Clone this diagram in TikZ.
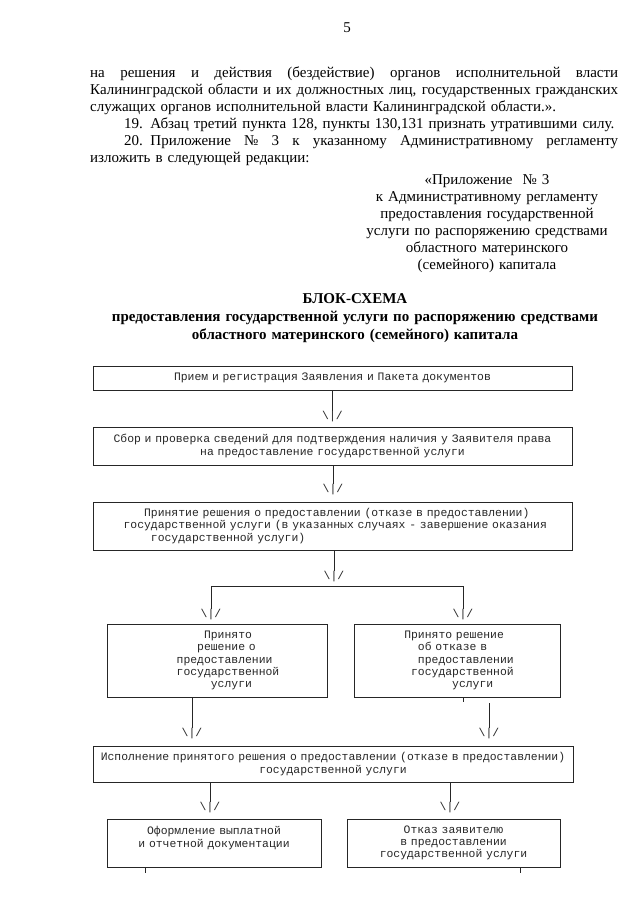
\documentclass[tikz,border=0pt]{standalone}
\usepackage{fontspec}
\setmainfont{Liberation Serif}
\newfontfamily\boxfont{Liberation Mono}
\usepackage{tikz}

\newcommand{\jline}[2][\linewidth]{\leavevmode\hbox to #1{\spaceskip=0.25em plus 1fil minus 0.08em\relax #2}}

\begin{document}
\begin{tikzpicture}[x=1pt, y=-1pt]
        \tikzset{
            page/.style={font=\fontsize{15}{17}\selectfont, inner sep=0pt},
            box/.style={draw=black!85, line width=0.8pt, inner xsep=0pt, inner ysep=2pt, text=black!85,
                        font=\boxfont\fontsize{11.4}{12.3}\selectfont, align=center},
            pad/.style={align=left, execute at begin node={\leftskip=#1pt}},
            headtxt/.style={inner sep=0pt, anchor=base, text=black!85,
                        font=\boxfont\fontsize{11.4}{12.3}\selectfont},
            link/.style={draw=black!85, line width=0.8pt}
        }
        \useasboundingbox (0,0) rectangle (640,905);

        % page text
        \node (pnum) [page, anchor=base] at (347,32) {5};
        \node (body) [page, anchor=base west, text width=528pt, align=left] at (90,77) {%
            \jline{на решения и действия (бездействие) органов исполнительной власти}\\
            \jline{Калининградской области и их должностных лиц, государственных гражданских}\\
            служащих органов исполнительной власти Калининградской области.».\\
            \hspace*{34pt}19. Абзац третий пункта 128, пункты 130,131 признать утратившими силу.\\
            \hspace*{34pt}\jline[494pt]{20. Приложение №~3 к указанному Административному регламенту}\\
            изложить в следующей редакции:};
        \node (appx) [page, anchor=base, text width=280pt, align=center] at (487,184) {%
            «Приложение~~№~3\\
            к Административному регламенту\\
            предоставления государственной\\
            услуги по распоряжению средствами\\
            областного материнского\\
            (семейного) капитала};
        \node (title) [page, anchor=base, text width=528pt, align=center,
                       font=\bfseries\fontsize{15}{18}\selectfont] at (355,303) {%
            БЛОК-СХЕМА\\
            предоставления государственной услуги по распоряжению средствами\\
            областного материнского (семейного) капитала};

        % blocks
        \node (b1) [box, text width=479pt, minimum height=24pt] at (332.5,378)
            {Прием и регистрация Заявления и Пакета документов};
        \node (b2) [box, text width=479pt, minimum height=38pt] at (332.5,446)
            {Сбор и проверка сведений для подтверждения наличия у Заявителя права\\
             на предоставление государственной услуги};
        \node (b3) [box, pad=30.6, text width=479pt, minimum height=48pt] at (332.5,526)
            {\hspace*{1.8em}Принятие решения о предоставлении (отказе в предоставлении)\\
             государственной услуги (в указанных случаях - завершение оказания\\
             \hspace*{2.4em}государственной услуги)};
        \node (b4) [box, pad=69.7, text width=220pt, minimum height=73pt] at (217,660.5)
            {\hspace*{2.4em}Принято\\\hspace*{1.8em}решение о\\предоставлении\\государственной\\
             \hspace*{3em}услуги};
        \node (b5) [box, pad=50.3, text width=206pt, minimum height=73pt] at (457,660.5)
            {Принято решение\\\hspace*{1.2em}об отказе в\\\hspace*{1.2em}предоставлении\\
             \hspace*{0.6em}государственной\\\hspace*{4.2em}услуги};
        \node (b6) [box, text width=480pt, minimum height=36pt] at (333,764)
            {Исполнение принятого решения о предоставлении (отказе в предоставлении)\\
             государственной услуги};
        \node (b7) [box, text width=214pt, minimum height=48pt] at (214,843)
            {Оформление выплатной\\и отчетной документации\\\mbox{}};
        \node (b8) [box, text width=213pt, minimum height=48pt] at (453.5,843)
            {Отказ заявителю\\в предоставлении\\государственной услуги};

        % arrow heads
        \node (t1) [headtxt] at (332.5,419) {\textbackslash|/};
        \node (t2) [headtxt] at (333,492) {\textbackslash|/};
        \node (t3) [headtxt] at (334,579) {\textbackslash|/};
        \node (t4) [headtxt] at (211,617) {\textbackslash|/};
        \node (t5) [headtxt] at (463,617) {\textbackslash|/};
        \node (t6) [headtxt] at (192,736) {\textbackslash|/};
        \node (t7) [headtxt] at (489,736) {\textbackslash|/};
        \node (t8) [headtxt] at (210,810) {\textbackslash|/};
        \node (t9) [headtxt] at (450,810) {\textbackslash|/};
        \coordinate (bar) at (334,586);

        \path[link] (b1.south -| t1) -- (t1.north)
                    (b2.south -| t2) -- (t2.north)
                    (b3.south -| t3) -- (t3.north)
                    (t4.north) -- (t4 |- bar) -- (t5 |- bar) -- (t5.north)
                    (b4.south -| t6) -- (t6.north)
                    (b5.south -| t5) -- ++(0,5)
                    (b5.south -| t7) ++(0,6) -- (t7.north)
                    (b6.south -| t8) -- (t8.north)
                    (b6.south -| t9) -- (t9.north)
                    (b7.south west) ++(39,0) -- ++(0,6)
                    (b8.south west) ++(174,0) -- ++(0,6);
\end{tikzpicture}
\end{document}
